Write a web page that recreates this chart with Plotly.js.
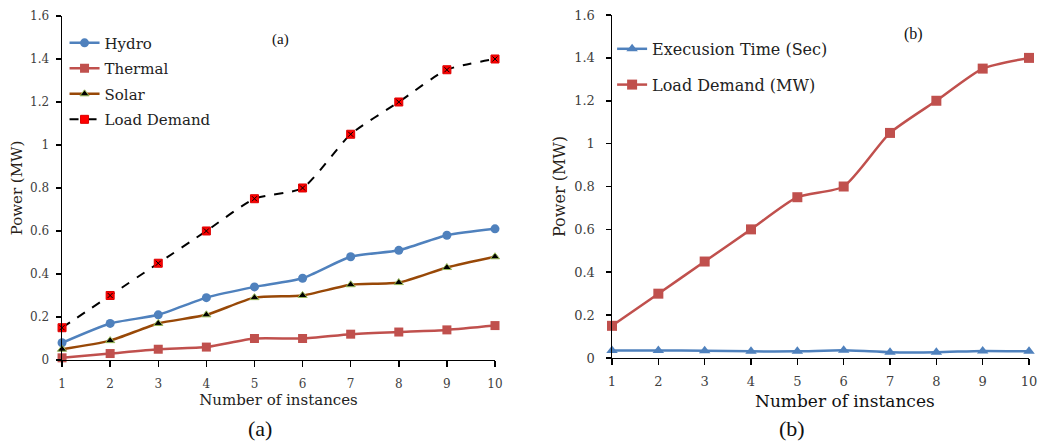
<!DOCTYPE html>
<html>
<head>
<meta charset="utf-8">
<script src="https://cdn.plot.ly/plotly-3.0.1.min.js"></script>
<style>html,body{margin:0;padding:0;background:#fff;}#chart{width:1041px;height:443px;}</style>
</head>
<body>
<div id="chart"></div>
<script>
const instances = [1, 2, 3, 4, 5, 6, 7, 8, 9, 10];
const hydro = [0.08, 0.17, 0.21, 0.29, 0.34, 0.38, 0.48, 0.51, 0.58, 0.61];
const thermal = [0.01, 0.03, 0.05, 0.06, 0.10, 0.10, 0.12, 0.13, 0.14, 0.16];
const solar = [0.05, 0.09, 0.17, 0.21, 0.29, 0.30, 0.35, 0.36, 0.43, 0.48];
const loadDemand = [0.15, 0.30, 0.45, 0.60, 0.75, 0.80, 1.05, 1.20, 1.35, 1.40];
const execTime = [0.035, 0.035, 0.034, 0.031, 0.031, 0.036, 0.027, 0.027, 0.033, 0.031];
const yTicks = [0, 0.2, 0.4, 0.6, 0.8, 1, 1.2, 1.4, 1.6];
const yTickText = ['0', '0.2', '0.4', '0.6', '0.8', '1', '1.2', '1.4', '1.6'];

const serif = 'DejaVu Serif';
const times = 'Liberation Serif';

const traces = [
  {x: instances, y: hydro, name: 'Hydro', type: 'scatter', mode: 'lines+markers', xaxis: 'x', yaxis: 'y', legend: 'legend', legendgroup: 'a1',
   line: {color: '#4f81bd', width: 2.5, shape: 'spline', smoothing: 0.6}, marker: {symbol: 'circle', size: 9, color: '#4f81bd'}, cliponaxis: false},
  {x: instances, y: thermal, name: 'Thermal', type: 'scatter', mode: 'lines+markers', xaxis: 'x', yaxis: 'y', legend: 'legend', legendgroup: 'a2',
   line: {color: '#c0504d', width: 2.5, shape: 'spline', smoothing: 0.6}, marker: {symbol: 'square', size: 9, color: '#c0504d'}, cliponaxis: false},
  {x: instances, y: solar, name: 'Solar', type: 'scatter', mode: 'lines+markers', xaxis: 'x', yaxis: 'y', legend: 'legend', legendgroup: 'a3',
   line: {color: '#984807', width: 2.5, shape: 'spline', smoothing: 0.6}, marker: {symbol: 'triangle-up', size: 8, color: '#000', line: {color: '#9bbb59', width: 1}}, cliponaxis: false},
  {x: instances, y: loadDemand, name: 'Load Demand', type: 'scatter', mode: 'lines+markers', xaxis: 'x', yaxis: 'y', legend: 'legend', legendgroup: 'a4',
   line: {color: '#000', width: 2, dash: 'dash', shape: 'spline', smoothing: 0.6}, marker: {symbol: 'square', size: 8, color: '#ff0000', line: {color: '#d00', width: 1}}, cliponaxis: false},
  {x: instances, y: loadDemand, name: 'Load Demand x', type: 'scatter', mode: 'markers', xaxis: 'x', yaxis: 'y', showlegend: false, hoverinfo: 'skip',
   marker: {symbol: 'x-thin-open', size: 5, color: '#000', line: {color: '#000', width: 1}}, cliponaxis: false},
  {x: instances, y: execTime, name: 'Execusion Time (Sec)', type: 'scatter', mode: 'lines+markers', xaxis: 'x2', yaxis: 'y2', legend: 'legend2', legendgroup: 'b1',
   line: {color: '#4f81bd', width: 2.5, shape: 'spline', smoothing: 0.6}, marker: {symbol: 'triangle-up', size: 10, color: '#4f81bd'}, cliponaxis: false},
  {x: instances, y: loadDemand, name: 'Load Demand (MW)', type: 'scatter', mode: 'lines+markers', xaxis: 'x2', yaxis: 'y2', legend: 'legend2', legendgroup: 'b2',
   line: {color: '#c0504d', width: 2.5, shape: 'spline', smoothing: 0.6}, marker: {symbol: 'square', size: 10, color: '#c0504d'}, cliponaxis: false}
];

const xCommon = {
  range: [1, 10], tickvals: instances, ticks: 'outside', ticklen: 6, tickwidth: 1.5, tickcolor: '#000',
  showline: true, linecolor: '#000', linewidth: 1.5, showgrid: false, zeroline: false,
  fixedrange: true
};
const yCommon = {
  range: [0, 1.6], tickvals: yTicks, ticktext: yTickText, ticks: 'outside', ticklen: 5, tickwidth: 1.5, tickcolor: '#000',
  showline: true, linecolor: '#000', linewidth: 1.5, showgrid: false, zeroline: false, fixedrange: true
};

const layout = {
  width: 1041, height: 443,
  margin: {l: 0, r: 0, t: 0, b: 0},
  paper_bgcolor: '#fff', plot_bgcolor: '#fff',
  showlegend: true,
  xaxis: Object.assign({}, xCommon, {domain: [0.0596, 0.4755], anchor: 'y',
    tickfont: {family: serif, size: 12, color: '#404040'}, ticklabelstandoff: 6,
    title: {text: 'Number of instances', font: {family: serif, size: 15, color: '#222'}, standoff: 2}}),
  yaxis: Object.assign({}, yCommon, {domain: [0.1874, 0.9639], anchor: 'x',
    tickfont: {family: serif, size: 12, color: '#404040'}, ticklabelstandoff: 4,
    title: {text: 'Power (MW)', font: {family: serif, size: 15, color: '#2a1f1a'}, standoff: 4}}),
  xaxis2: Object.assign({}, xCommon, {domain: [0.5879, 0.9885], anchor: 'y2',
    tickfont: {family: serif, size: 13, color: '#404040'}, ticklabelstandoff: 5}),
  yaxis2: Object.assign({}, yCommon, {domain: [0.1919, 0.9661], anchor: 'x2',
    tickfont: {family: serif, size: 13, color: '#404040'}, ticklabelstandoff: 8,
    title: {text: 'Power (MW)', font: {family: serif, size: 16, color: '#2a1f1a'}, standoff: 4}}),
  legend: {x: 0.062, y: 0.94, xanchor: 'left', yanchor: 'top', bgcolor: 'rgba(0,0,0,0)',
    font: {family: serif, size: 15, color: '#222'}, itemwidth: 30, tracegroupgap: 3},
  legend2: {x: 0.588, y: 0.928, xanchor: 'left', yanchor: 'top', bgcolor: 'rgba(0,0,0,0)',
    font: {family: serif, size: 16, color: '#222'}, itemwidth: 30, tracegroupgap: 12}
};
// annotation texts placed at pixel positions converted to paper coordinates
const annText = ['(a)', '(b)', '(a)', '(b)', 'Number of instances'];
const annPx = [
  {x: 280, y: 40, size: 15, fam: times},
  {x: 913, y: 34, size: 16, fam: times},
  {x: 260, y: 428, size: 22, fam: times},
  {x: 792, y: 428, size: 22, fam: times},
  {x: 845, y: 401, size: 17, fam: serif}
];
layout.annotations = annText.map((t, i) => ({
  text: t, xref: 'paper', yref: 'paper', showarrow: false,
  x: annPx[i].x / 1041, y: 1 - annPx[i].y / 443, xanchor: 'center', yanchor: 'middle',
  font: {family: annPx[i].fam, size: annPx[i].size, color: '#111'}
}));

Plotly.newPlot('chart', traces, layout, {displayModeBar: false, staticPlot: true});
</script>
</body>
</html>
